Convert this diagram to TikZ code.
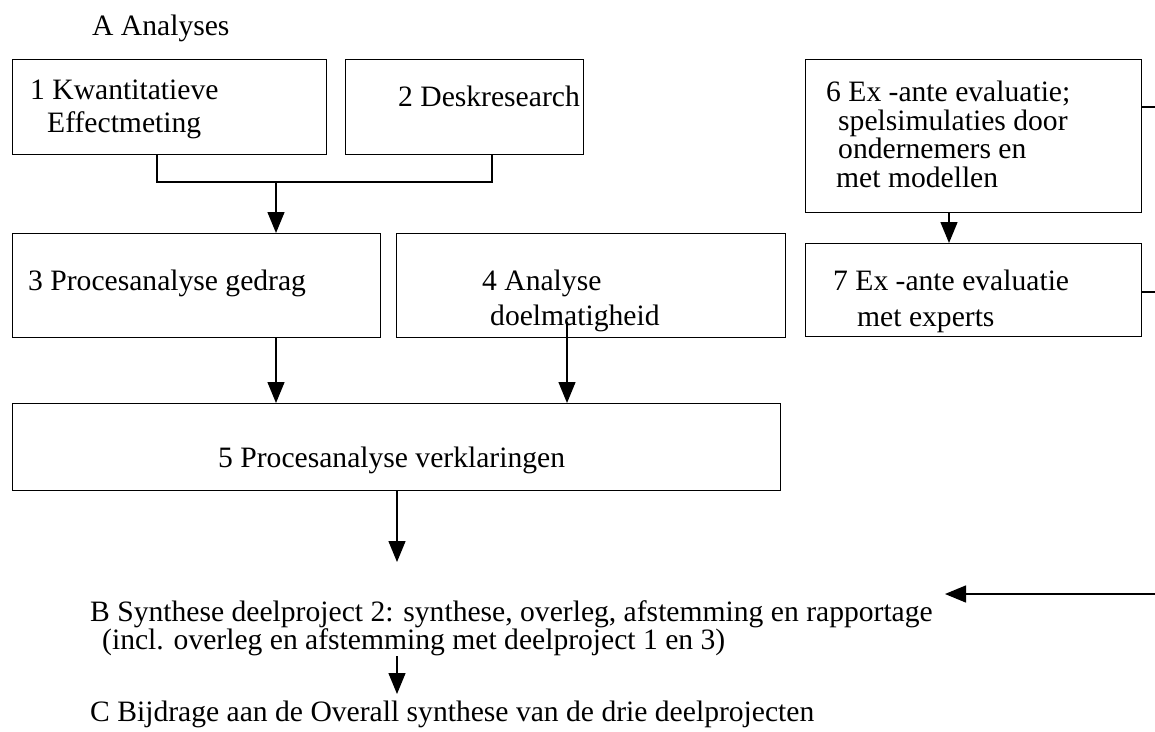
\documentclass[tikz,border=0pt]{standalone}
\usepackage{fontspec}
\setmainfont{Liberation Serif}
\usetikzlibrary{arrows.meta}
\begin{document}
\begin{tikzpicture}[x=1pt,y=-1pt,
  box/.style={draw,line width=1.4pt,inner sep=0pt,anchor=north west},
  lbl/.style={anchor=base west,inner sep=0pt,font=\fontsize{29.6}{30}\selectfont},
  arr/.style={-{Triangle[length=21pt,width=17pt]},line width=1.4pt},
  ln/.style={line width=1.4pt}]
\useasboundingbox (0,0) rectangle (1155,731);
% boxes
\node[box,minimum width=314pt,minimum height=95pt] (b1) at (12,59) {};
\node[box,minimum width=238pt,minimum height=95pt] (b2) at (345,59) {};
\node[box,minimum width=336pt,minimum height=153pt] (b6) at (805,59) {};
\node[box,minimum width=368pt,minimum height=104pt] (b3) at (12,233) {};
\node[box,minimum width=389pt,minimum height=104pt] (b4) at (396,233) {};
\node[box,minimum width=336pt,minimum height=93pt] (b7) at (805,243) {};
\node[box,minimum width=768pt,minimum height=87pt] (b5) at (12,403) {};
% texts
\node[lbl] (tA) at (92,35) {A Analyses};
\node[lbl] (t1a) at (30,99) {1 Kwantitatieve};
\node[lbl] (t1b) at (47,132) {Effectmeting};
\node[lbl] (t2) at (398,106) {2 Deskresearch};
\node[lbl] (t6a) at (826,101) {6 Ex -ante evaluatie;};
\node[lbl] (t6b) at (838,130) {spelsimulaties door};
\node[lbl] (t6c) at (838,158) {ondernemers en};
\node[lbl] (t6d) at (836,187) {met modellen};
\node[lbl] (t3) at (28,290) {3 Procesanalyse gedrag};
\node[lbl] (t4a) at (482,290) {4 Analyse};
\node[lbl] (t4b) at (490,325) {doelmatigheid};
\node[lbl] (t7a) at (833,290) {7 Ex -ante evaluatie};
\node[lbl] (t7b) at (857,326) {met experts};
\node[lbl] (t5) at (218,467) {5 Procesanalyse verklaringen};
\node[lbl] (tB1) at (90,621) {B Synthese deelproject 2: synthese, overleg, afstemming en rapportage};
\node[lbl] (tB2) at (102,649) {(incl. overleg en afstemming met deelproject 1 en 3)};
\node[lbl] (tC) at (90,721) {C Bijdrage aan de Overall synthese van de drie deelprojecten};
% helper coordinates
\coordinate (j) at (276,182);
\coordinate (k4) at (567,322);
\coordinate (s6) at (1155,107);
\coordinate (s7) at (1155,292);
\coordinate (rB) at (1155,594);
\coordinate (eB) at (945,594);
\coordinate (pB) at (397,562);
\coordinate (qB) at (397,656);
\coordinate (tCa) at (397,694);
% connectors
\draw[ln] (b1.south -| 157,0) |- (j) -| (b2.south -| 492,0);
\draw[arr] (j) -- (j |- b3.north);
\draw[arr] (b3.south -| j) -- (b5.north -| j);
\draw[arr] (k4) -- (b5.north -| k4);
\draw[arr] (b5.south -| pB) -- (pB);
\draw[arr] (qB) -- (tCa);
\draw[arr] (b6.south -| 949,0) -- (b7.north -| 949,0);
\draw[ln] (b6.east |- s6) -- (s6);
\draw[ln] (b7.east |- s7) -- (s7);
\draw[arr] (rB) -- (eB);
\end{tikzpicture}
\end{document}
